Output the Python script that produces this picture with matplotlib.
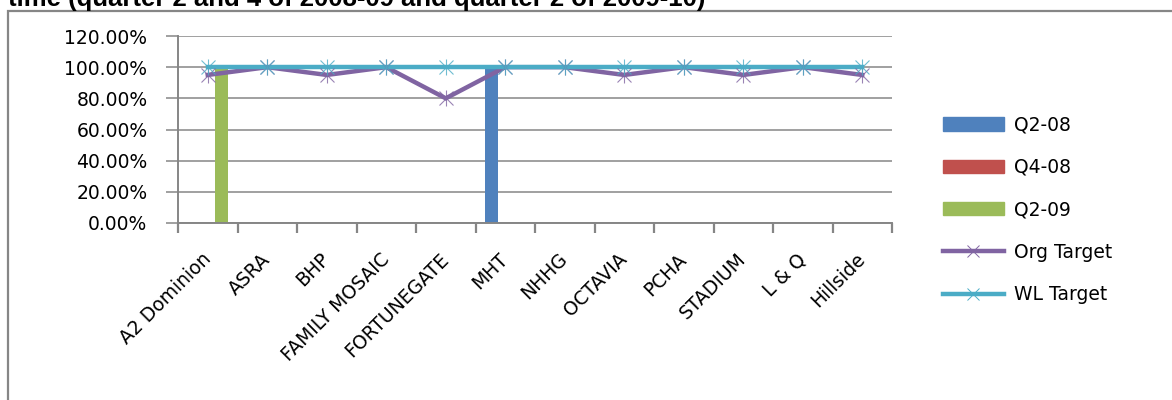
import numpy as np
import matplotlib
matplotlib.use("Agg")
import matplotlib.pyplot as plt
from matplotlib.patches import Rectangle
from matplotlib.lines import Line2D
from matplotlib.ticker import PercentFormatter

categories = ['A2 Dominion', 'ASRA', 'BHP', 'FAMILY MOSAIC', 'FORTUNEGATE', 'MHT',
              'NHHG', 'OCTAVIA', 'PCHA', 'STADIUM', 'L & Q', 'Hillside']
q2_08 = [np.nan, np.nan, np.nan, np.nan, np.nan, 1.00, np.nan, np.nan, np.nan, np.nan, np.nan, np.nan]
q4_08 = [np.nan] * 12
q2_09 = [0.99, np.nan, np.nan, np.nan, np.nan, np.nan, np.nan, np.nan, np.nan, np.nan, np.nan, np.nan]
org_target = [0.95, 1.00, 0.95, 1.00, 0.80, 1.00, 1.00, 0.95, 1.00, 0.95, 1.00, 0.95]
wl_target = [1.00] * 12
y_ticks = [0, 0.2, 0.4, 0.6, 0.8, 1.0, 1.2]

title = "time (quarter 2 and 4 of 2008-09 and quarter 2 of 2009-10)"

W, H = 1172, 400
fig = plt.figure(figsize=(W / 100, H / 100), dpi=100)
fig.patch.set_facecolor('white')

# outer chart border (runs off the right and bottom edges, like the source)
fig.patches.append(Rectangle((8 / W, -0.1), 1.2, 1.1 - 11 / H, transform=fig.transFigure,
                             fill=False, edgecolor='#868686', linewidth=1.6))
# title sits partly above the picture in the source
fig.text(8 / W, 1 - 6 / H, title, fontsize=18.5, fontweight='bold', family='Liberation Sans',
         ha='left', va='baseline')

ax = fig.add_axes([178 / W, 1 - 223 / H, (892 - 178) / W, (223 - 36) / H])
x = np.arange(len(categories))
bw = 0.227
ax.bar(x - bw, q2_08, bw, color='#4F81BD', label='Q2-08', zorder=2)
ax.bar(x, q4_08, bw, color='#C0504D', label='Q4-08', zorder=2)
ax.bar(x + bw, q2_09, bw, color='#9BBB59', label='Q2-09', zorder=2)

for vals, col in [(org_target, '#8064A2'), (wl_target, '#4BACC6')]:
    ax.plot(x, vals, color=col, linewidth=3.2, zorder=3, solid_joinstyle='miter')
    ax.plot(x, vals, linestyle='none', marker='x', markersize=10, markeredgewidth=0.8,
            color=col, alpha=0.8, zorder=4)
    ax.plot(x, vals, linestyle='none', marker='|', markersize=11, markeredgewidth=0.8,
            color=col, alpha=0.8, zorder=4)

ax.set_xlim(-0.5, len(categories) - 0.5)
ax.set_ylim(0, 1.2)
ax.set_yticks(y_ticks)
ax.yaxis.set_major_formatter(PercentFormatter(1.0, decimals=2))
ax.grid(axis='y', color='#868686', linewidth=1.1, zorder=0)
ax.set_axisbelow(True)

for s in ['top', 'right']:
    ax.spines[s].set_visible(False)
for s in ['left', 'bottom']:
    ax.spines[s].set_color('#868686')
    ax.spines[s].set_linewidth(1.4)

ax.tick_params(axis='y', length=9, width=1.1, color='#868686', pad=13,
               labelsize=13.5, labelcolor='black')
ax.set_xticks(np.arange(-0.5, len(categories), 1.0), minor=True)
ax.set_xticks(x)
ax.set_xticklabels(categories, rotation=45, ha='right', rotation_mode='anchor', va='center')
ax.tick_params(axis='x', which='major', length=0, pad=24, labelsize=13.5)
ax.tick_params(axis='x', which='minor', length=7, width=1.6, color='#868686')

handles = [Rectangle((0, 0), 1, 1, color='#4F81BD'),
           Rectangle((0, 0), 1, 1, color='#C0504D'),
           Rectangle((0, 0), 1, 1, color='#9BBB59'),
           Line2D([], [], color='#8064A2', linewidth=3.2, marker='x', markersize=9,
                  markeredgewidth=0.7),
           Line2D([], [], color='#4BACC6', linewidth=3.2, marker='x', markersize=9,
                  markeredgewidth=0.7)]
labels = ['Q2-08', 'Q4-08', 'Q2-09', 'Org Target', 'WL Target']
fig.legend(handles, labels, loc='upper left', bbox_to_anchor=(935 / W, 1 - 108 / H),
           frameon=False, fontsize=13.5, handlelength=3.3, handletextpad=0.5,
           labelspacing=1.25, borderaxespad=0)

fig.savefig('out.png', dpi=100)
